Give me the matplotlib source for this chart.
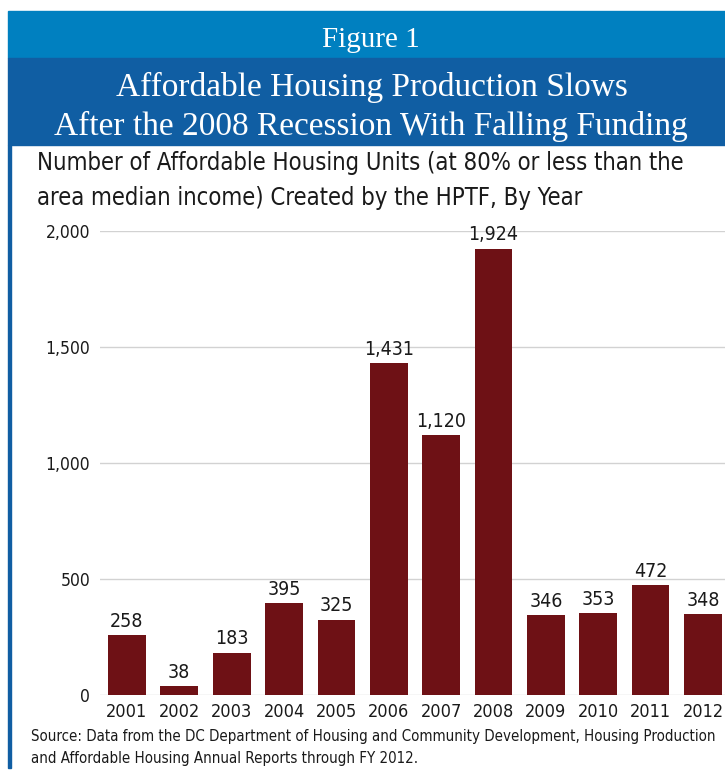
import numpy as np
import matplotlib.pyplot as plt
from matplotlib.patches import Rectangle

# data
years = ["2001", "2002", "2003", "2004", "2005", "2006",
         "2007", "2008", "2009", "2010", "2011", "2012"]
units = [258, 38, 183, 395, 325, 1431, 1120, 1924, 346, 353, 472, 348]
yticks = [0, 500, 1000, 1500, 2000]
ytick_labels = ["0", "500", "1,000", "1,500", "2,000"]

W, H = 725, 772
sans = ["DejaVu Sans"]
cond = "condensed"
serif = ["Liberation Serif", "DejaVu Serif"]
bar_col = "#6E1115"

fig = plt.figure(figsize=(W / 100, H / 100), dpi=100)

def fx(px):
    return px / W

def fy(py):
    return 1 - py / H

# header bands and left rule
fig.patches.append(Rectangle((fx(8), fy(58)), fx(W - 8), 47 / H,
                             transform=fig.transFigure, color="#0080C0", zorder=0))
fig.patches.append(Rectangle((fx(8), fy(145)), fx(W - 8), 87 / H,
                             transform=fig.transFigure, color="#105EA3", zorder=0))
fig.patches.append(Rectangle((fx(8), fy(768)), fx(2.5), 623 / H,
                             transform=fig.transFigure, color="#105EA3", zorder=0))

fig.text(fx(371), fy(40), "Figure 1", color="white", family=serif,
         fontsize=21, ha="center", va="center")
fig.text(fx(372), fy(87), "Affordable Housing Production Slows", color="white",
         family=serif, fontsize=24, ha="center", va="center")
fig.text(fx(371), fy(126), "After the 2008 Recession With Falling Funding", color="white",
         family=serif, fontsize=24, ha="center", va="center")

fig.text(fx(37), fy(163), "Number of Affordable Housing Units (at 80% or less than the",
         family=sans, stretch=cond, fontsize=17.1, ha="left", va="center", color="#1a1a1a")
fig.text(fx(37), fy(198), "area median income) Created by the HPTF, By Year",
         family=sans, stretch=cond, fontsize=17.1, ha="left", va="center", color="#1a1a1a")

fig.text(fx(31), fy(736), "Source: Data from the DC Department of Housing and Community "
         "Development, Housing Production", family=sans, stretch=cond, fontsize=10.8,
         ha="left", va="center", color="#1a1a1a")
fig.text(fx(31), fy(758), "and Affordable Housing Annual Reports through FY 2012.",
         family=sans, stretch=cond, fontsize=10.8, ha="left", va="center", color="#1a1a1a")

# chart
ax = fig.add_axes([fx(100), fy(695), fx(625), (695 - 231) / H])
x = np.arange(len(years))
ax.bar(x, units, width=0.72, color=bar_col, zorder=2)
for xi, v in zip(x, units):
    ax.text(xi, v + 18, f"{v:,}", ha="center", va="bottom", family=sans, stretch=cond,
            fontsize=14, color="#1a1a1a", clip_on=False)

ax.set_xlim(-0.514, 11.42)
ax.set_ylim(0, 2000)
ax.set_yticks(yticks)
ax.set_yticklabels(ytick_labels, family=sans, stretch=cond, fontsize=12.5, color="#1a1a1a")
ax.set_xticks(x)
ax.set_xticklabels(years, family=sans, stretch=cond, fontsize=13, color="#1a1a1a")
ax.tick_params(length=0)
ax.tick_params(axis="y", pad=7)
ax.tick_params(axis="x", pad=6)
ax.grid(axis="y", color="#D2D2D2", linewidth=1, zorder=0)
ax.set_axisbelow(True)
for s in ax.spines.values():
    s.set_visible(False)

fig.savefig("out.png", dpi=100)
